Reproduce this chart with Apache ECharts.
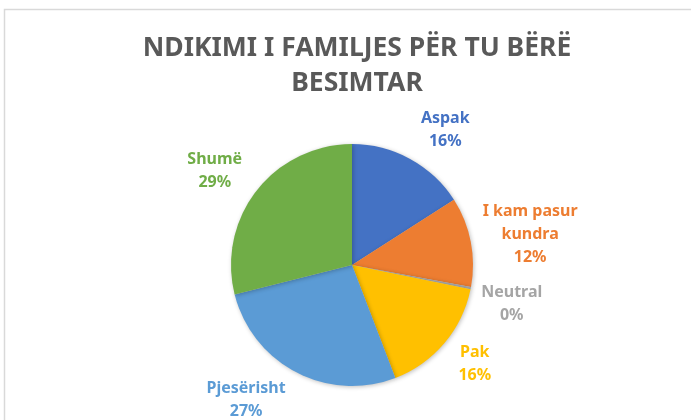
<!DOCTYPE html>
<html>
<head>
<meta charset="utf-8">
<script src="https://cdn.jsdelivr.net/npm/echarts@6/dist/echarts.min.js"></script>
<style>
    html,body{margin:0;padding:0;background:#fff;}
    #pie{width:691px;height:420px;}
</style>
</head>
<body>
<div id="pie"></div>
<script>
    // të dhënat
    var categories = ['Aspak', 'I kam pasur\nkundra', 'Neutral', 'Pak', 'Pjesërisht', 'Shumë'];
    var values = [16, 12, 0.3, 16, 27, 29];
    var colorList = ['#4472C4', '#ED7D31', '#A5A5A5', '#FFC000', '#5B9BD5', '#70AD47'];
    var titleText = 'NDIKIMI I FAMILJES PËR TU BËRË\nBESIMTAR';

    var pieCenter = [352, 265];

    var seriesData = categories.map(function (name, i) {
        return {
            name: name,
            value: values[i],
            itemStyle: {color: colorList[i]},
            label: {color: colorList[i]}
        };
    });

    var myChart = echarts.init(document.getElementById('pie'));
    var option = {
        animation: false,
        backgroundColor: '#fff',
        graphic: [{
            type: 'rect',
            shape: {x: 4.5, y: 9.5, width: 720, height: 500},
            style: {fill: 'none', stroke: '#D9D9D9', lineWidth: 1.5},
            silent: true
        }],
        title: {
            text: titleText,
            left: 352,
            textAlign: 'center',
            top: 26,
            textStyle: {
                color: '#595959',
                fontSize: 26.5,
                fontWeight: 'bold',
                fontFamily: 'Noto Sans',
                lineHeight: 35
            }
        },
        series: [{
            type: 'pie',
            radius: 121,
            center: pieCenter,
            startAngle: 90,
            clockwise: true,
            itemStyle: {
                shadowBlur: 4,
                shadowColor: 'rgba(0,0,0,0.25)',
                shadowOffsetX: 1,
                shadowOffsetY: 1
            },
            label: {
                show: true,
                position: 'outside',
                fontFamily: 'Noto Sans',
                fontWeight: 'bold',
                fontSize: 16,
                lineHeight: 23,
                formatter: function (p) {
                    return p.name + '\n' + Math.round(p.percent) + '%';
                }
            },
            labelLine: {show: false, length: 12, length2: 0},
            // etiketat në qendër, si në Excel
            labelLayout: function (params) {
                var r = params.labelRect;
                var lx = r.x + r.width / 2;
                var ly = r.y + r.height / 2;
                var dx = lx - pieCenter[0];
                var dy = ly - pieCenter[1];
                var dist = Math.sqrt(dx * dx + dy * dy) || 1;
                return {
                    x: lx,
                    y: ly + dy / dist * r.height * 0.5,
                    align: 'center',
                    verticalAlign: 'middle'
                };
            },
            data: seriesData
        }]
    };
    myChart.setOption(option);
</script>
</body>
</html>
